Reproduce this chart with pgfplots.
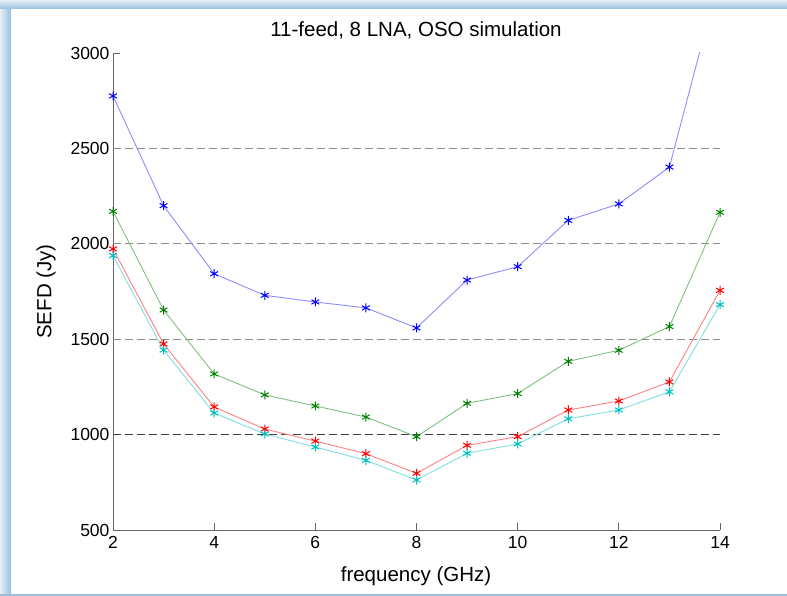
\documentclass[border=0pt]{standalone}
\usepackage{fontspec}
\setmainfont{Liberation Sans}
\usepackage{pgfplots}
\pgfplotsset{compat=1.18}
\definecolor{frameblue}{rgb}{0.60,0.75,0.87}
\definecolor{lblue}{rgb}{0.55,0.55,1}
\definecolor{lgreen}{rgb}{0.5,0.75,0.5}
\definecolor{dgreen}{rgb}{0,0.5,0}
\definecolor{lred}{rgb}{1,0.5,0.5}
\definecolor{lcyan}{rgb}{0.5,0.87,0.87}
\definecolor{dcyan}{rgb}{0,0.75,0.75}
\newcommand{\tickfont}{\fontsize{17.5}{20}\selectfont}
\newcommand{\labfont}{\fontsize{20.5}{23}\selectfont}
\begin{document}
\begin{tikzpicture}[x=1pt,y=1pt]
\useasboundingbox (0,0) rectangle (787,596);
% window frame
\shade[left color=frameblue!25, right color=frameblue] (0,0) rectangle (11,596);
\shade[top color=frameblue!25, bottom color=frameblue] (0,587) rectangle (787,596);
\fill[frameblue] (0,0) rectangle (787,1.5);
\begin{axis}[
  at={(113pt,66pt)}, anchor=south west,
  scale only axis, width=607pt, height=477pt,
  xmin=2, xmax=14, ymin=500, ymax=3000,
  axis x line*=bottom, axis y line*=left,
  axis line style={-, black!60, line width=0.8pt},
  xtick={2,4,...,14}, ytick={500,1000,...,3000},
  tick align=inside, major tick length=7pt,
  tick style={black!60, line width=0.8pt},
  tick label style={font=\tickfont},
  xticklabel style={yshift=-3pt},
  /pgf/number format/assume math mode=true,
  /pgf/number format/1000 sep={},
  scaled y ticks=false,
  every axis plot/.append style={line width=0.9pt, mark=asterisk, mark size=4.5pt},
]
\pgfplotsinvokeforeach{1500,2000,2500}{
  \draw[black!45, line width=0.8pt, dash pattern=on 8pt off 4pt] (axis cs:2,#1) -- (axis cs:14,#1);
}
\draw[black!75, line width=0.8pt, dash pattern=on 8pt off 4pt] (axis cs:2,1000) -- (axis cs:14,1000);

\addplot[color=lblue, mark options={draw=blue, solid, line width=1pt}] coordinates {
  (2,2775) (3,2200) (4,1843) (5,1730) (6,1695) (7,1664) (8,1559)
  (9,1810) (10,1880) (11,2123) (12,2209) (13,2402) (14,3410)};
\addplot[color=lgreen, mark options={draw=dgreen, solid, line width=1pt}] coordinates {
  (2,2170) (3,1653) (4,1318) (5,1208) (6,1150) (7,1092) (8,989)
  (9,1164) (10,1215) (11,1384) (12,1442) (13,1566) (14,2165)};
\addplot[color=lred, mark options={draw=red, solid, line width=1pt}] coordinates {
  (2,1973) (3,1475) (4,1145) (5,1029) (6,966) (7,900) (8,797)
  (9,944) (10,989) (11,1129) (12,1176) (13,1276) (14,1756)};
\addplot[color=lcyan, mark options={draw=dcyan, solid, line width=1pt}] coordinates {
  (2,1938) (3,1443) (4,1113) (5,1003) (6,935) (7,865) (8,762)
  (9,902) (10,951) (11,1083) (12,1129) (13,1224) (14,1681)};
\end{axis}
\node[font=\labfont] at (416,566) {11-feed, 8 LNA, OSO simulation};
\node[font=\labfont] at (416,20) {frequency (GHz)};
\node[font=\labfont, rotate=90] at (46,304.5) {SEFD (Jy)};
\end{tikzpicture}
\end{document}
